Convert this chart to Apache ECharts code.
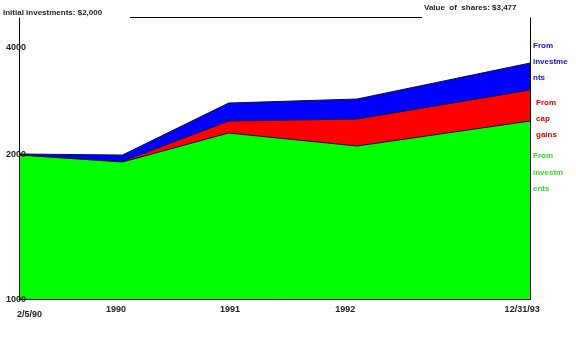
<!DOCTYPE html>
<html>
<head>
<meta charset="utf-8">
<script src="https://cdn.jsdelivr.net/npm/echarts@6/dist/echarts.min.js"></script>
<style>html,body{margin:0;padding:0;background:#fff}#c{width:576px;height:360px}</style>
</head>
<body>
<div id="c"></div>
<script>
// Data (decimal-year positions of the sample dates)
const sampleX = [1990.10, 1990.89, 1991.70, 1992.68, 1994.00];
const fromInvestment = [2000, 1869, 2411, 2168, 2635];
const fromCapGains   = [0, 10, 224, 504, 579];
const fromInvestmentIncome = [19, 120, 336, 374, 504];
// tick labels
const xTickValues = [1990.18, 1990.84, 1991.71, 1992.59, 1993.94];
const xTickLabels = ['2/5/90', '1990', '1991', '1992', '12/31/93'];
const yMin = -700, yMax = 4560;
const yTickValues = [yMin, 2000, 4000];
const yTickLabels = ['1000', '2000', '4000'];

const FONT = '"Liberation Sans",sans-serif';
// cumulative layers (stack computed from the arrays)
const layer1 = fromInvestment.slice();
const layer2 = layer1.map((v, i) => v + fromCapGains[i]);
const layer3 = layer2.map((v, i) => v + fromInvestmentIncome[i]);
const pairs = arr => arr.map((v, i) => [sampleX[i], v]);

const chart = echarts.init(document.getElementById('c'), null, {renderer: 'canvas'});
const areaSeries = (name, data, color, z) => ({
  name, type: 'line', data: pairs(data), z,
  symbol: 'none', smooth: false,
  lineStyle: {color: '#101030', width: 1},
  areaStyle: {color, opacity: 1, origin: 'start'},
  itemStyle: {color}
});
chart.setOption({
  animation: false,
  grid: {left: 19, right: 46, top: 18, bottom: 60.5},
  xAxis: {
    type: 'value', min: sampleX[0], max: sampleX[sampleX.length - 1],
    z: 10,
    splitLine: {show: false},
    axisLine: {show: true, onZero: false, lineStyle: {color: '#000', width: 1}},
    axisTick: {show: false},
    axisLabel: {
      customValues: xTickValues,
      margin: 6,
      formatter: v => {
        const i = xTickValues.findIndex(t => Math.abs(t - v) < 1e-6);
        const s = i >= 0 ? xTickLabels[i] : '';
        return i === 0 ? '{low|' + s + '}' : '{n|' + s + '}';
      },
      rich: {
        n: {fontFamily: FONT, fontSize: 9, fontWeight: 'bold', color: '#222'},
        low: {fontFamily: FONT, fontSize: 9, fontWeight: 'bold', color: '#222', padding: [5, 0, 0, 0]}
      }
    }
  },
  yAxis: [{
    type: 'value', min: yMin, max: yMax,
    z: 10,
    splitLine: {show: false},
    axisLine: {show: true, onZero: false, lineStyle: {color: '#000', width: 1}},
    axisTick: {show: false},
    axisLabel: {
      customValues: yTickValues,
      margin: -7,
      fontFamily: FONT, fontSize: 9, fontWeight: 'bold', color: '#222',
      formatter: v => {
        const i = yTickValues.findIndex(t => Math.abs(t - v) < 1e-6);
        return i >= 0 ? yTickLabels[i] : '';
      }
    }
  }, {
    type: 'value', position: 'right', min: yMin, max: yMax,
    z: 10,
    splitLine: {show: false},
    axisLine: {show: true, onZero: false, lineStyle: {color: '#000', width: 1}},
    axisTick: {show: false}, axisLabel: {show: false}
  }],
  series: [
    areaSeries('From investment income', layer3, '#0000ff', 2),
    areaSeries('From cap gains', layer2, '#ff0000', 3),
    areaSeries('From investments', layer1, '#00ff00', 4)
  ],
  graphic: [
    {type: 'text', left: 3, top: 9, style: {text: 'Initial investments: $2,000', font: 'bold 8px ' + FONT, fill: '#222'}},
    {type: 'text', left: 424, top: 4, style: {text: 'Value  of  shares: $3,477', font: 'bold 8px ' + FONT, fill: '#222'}},
    {type: 'line', shape: {x1: 130, y1: 17.5, x2: 422, y2: 17.5}, style: {stroke: '#000', lineWidth: 1}},
    {type: 'text', left: 533, top: 38, style: {text: 'From\ninvestme\nnts', font: 'bold 8px ' + FONT, fill: '#1010e0', lineHeight: 16}},
    {type: 'text', left: 536, top: 95, style: {text: 'From\ncap\ngains', font: 'bold 8px ' + FONT, fill: '#e00000', lineHeight: 16}},
    {type: 'text', left: 533, top: 148, style: {text: 'From\ninvestm\nents', font: 'bold 8px ' + FONT, fill: '#33dd33', lineHeight: 16.5}}
  ]
});
</script>
</body>
</html>
